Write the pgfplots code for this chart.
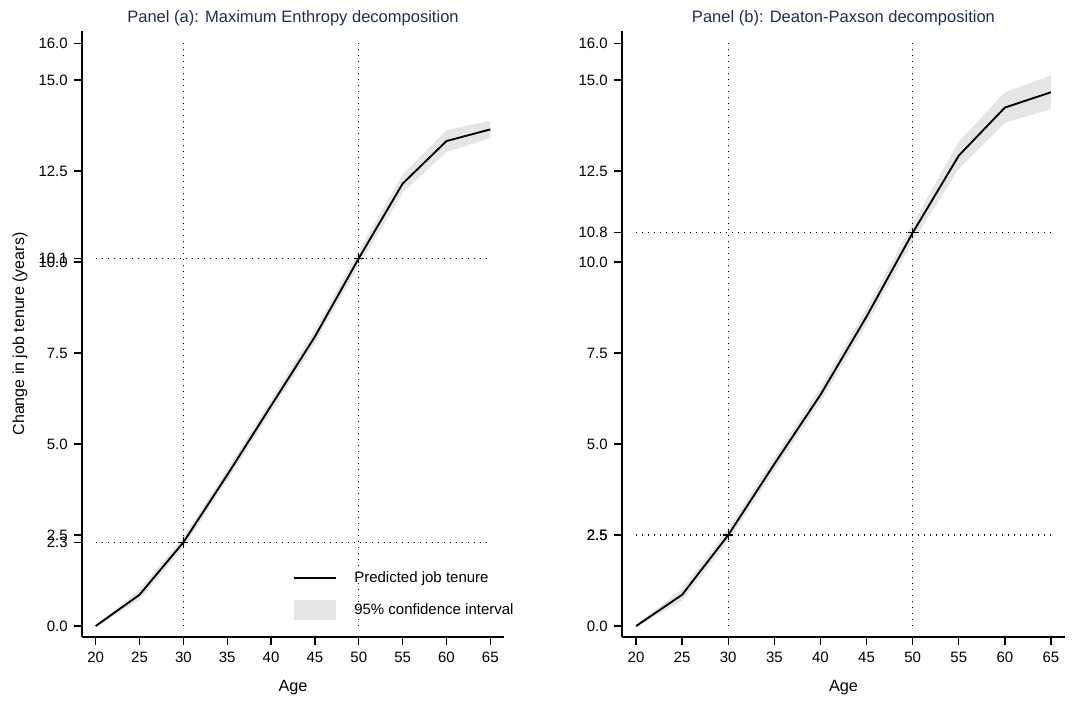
\documentclass[border=0pt]{standalone}
\usepackage{pgfplots}
\pgfplotsset{compat=1.18}
\usepackage{pgfplotstable}
\usepgfplotslibrary{fillbetween}
\usepackage{fontspec}
\setmainfont{Liberation Sans}
\definecolor{titlecol}{RGB}{30,45,83}
\definecolor{cigray}{RGB}{229,229,229}

\pgfplotstableread{
age est lo hi
20 0.00 -0.02 0.02
25 0.86 0.72 1.00
30 2.30 2.16 2.44
35 4.15 4.00 4.30
40 6.05 5.88 6.22
45 7.95 7.77 8.13
50 10.10 9.90 10.30
55 12.15 11.90 12.40
60 13.32 13.02 13.62
65 13.64 13.40 13.88
}\panela

\pgfplotstableread{
age est lo hi
20 0.00 -0.03 0.03
25 0.86 0.70 1.02
30 2.50 2.33 2.67
35 4.45 4.27 4.63
40 6.35 6.15 6.55
45 8.50 8.28 8.72
50 10.80 10.55 11.05
55 12.92 12.55 13.30
60 14.24 13.82 14.66
65 14.66 14.20 15.12
}\panelb

\pgfplotsset{
  panel/.style={
    scale only axis,
    height=454.7pt,
    anchor=south west,
    ymin=-0.30, ymax=16.35,
    axis x line*=bottom, axis y line*=left,
    axis line style={-, line width=1.3pt, black},
    tick align=outside,
    xtick pos=bottom, ytick pos=left,
    major tick length=6pt,
    every tick/.style={black, line width=1pt},
    xtick={20,25,...,65},
    tick label style={font=\fontsize{11.25}{13}\selectfont, text=black},
    /pgf/number format/assume math mode=true,
    scaled y ticks=false,
    yticklabel style={/pgf/number format/fixed, /pgf/number format/fixed zerofill, /pgf/number format/precision=1, inner sep=0pt, xshift=-4.5pt},
    xticklabel style={/pgf/number format/fixed, inner sep=0pt, yshift=-5pt},
    clip=false,
  },
  refline/.style={black, line width=0.9pt, dash pattern=on 0.9pt off 3.6pt, forget plot},
}

\begin{document}
\begin{tikzpicture}
% Panel (a)
\begin{axis}[panel,
  at={(61.5pt,48.75pt)}, width=316.5pt,
  xmin=18.44, xmax=66.56,
  ytick={0,2.3,2.5,5,7.5,10,10.1,12.5,15,16},
  legend style={draw=none, fill=none, inner sep=0pt, outer sep=0pt,
    at={(0.4993,0.0709)}, anchor=west,
    row sep=9pt, column sep=13.3pt,
    font=\fontsize{11.25}{13}\selectfont,
    nodes={inner sep=0pt, anchor=west}},
  legend cell align=left,
]
\addplot[name path=ahi, draw=none, forget plot] table[x=age, y=hi] {\panela};
\addplot[name path=alo, draw=none, forget plot] table[x=age, y=lo] {\panela};
\addplot[cigray, forget plot] fill between[of=ahi and alo];
\addplot[refline] coordinates {(20,2.3) (65,2.3)};
\addplot[refline] coordinates {(20,10.1) (65,10.1)};
\addplot[refline] coordinates {(30,0) (30,16)};
\addplot[refline] coordinates {(50,0) (50,16)};
\addplot[black, line width=1.4pt, forget plot] table[x=age, y=est] {\panela};
\addplot[only marks, mark=+, mark size=3.8pt, black, line width=0.9pt, forget plot] coordinates {(30,2.3) (50,10.1)};
\addlegendimage{legend image code/.code={\path[draw=none, fill=none] (0pt,-7.5pt) rectangle (31.5pt,7.5pt); \draw[black, line width=1.4pt] (0pt,0pt) -- (31.5pt,0pt);}}
\addlegendentry{Predicted job tenure}
\addlegendimage{legend image code/.code={\fill[cigray, draw=none] (0pt,-7.5pt) rectangle (31.5pt,7.5pt);}}
\addlegendentry{95\% confidence interval}
\end{axis}

% Panel (b)
\begin{axis}[panel,
  at={(466.5pt,48.75pt)}, width=332.25pt,
  xmin=18.48, xmax=66.52,
  ytick={0,2.5,5,7.5,10,10.8,12.5,15,16},
  extra y ticks={2.5},
]
\addplot[name path=bhi, draw=none, forget plot] table[x=age, y=hi] {\panelb};
\addplot[name path=blo, draw=none, forget plot] table[x=age, y=lo] {\panelb};
\addplot[cigray, forget plot] fill between[of=bhi and blo];
\addplot[refline] coordinates {(20,2.5) (65,2.5)};
\addplot[refline] coordinates {(20,10.8) (65,10.8)};
\addplot[refline] coordinates {(30,0) (30,16)};
\addplot[refline] coordinates {(50,0) (50,16)};
\addplot[black, line width=1.4pt, forget plot] table[x=age, y=est] {\panelb};
\addplot[only marks, mark=+, mark size=3.8pt, black, line width=0.9pt, forget plot] coordinates {(30,2.5) (50,10.8)};
\end{axis}

% Titles and axis labels
\node[text=titlecol, font=\fontsize{12.4}{15}\selectfont] at (219.75pt,513pt) {Panel (a): Maximum Enthropy decomposition};
\node[text=titlecol, font=\fontsize{12.4}{15}\selectfont] at (632.6pt,513pt) {Panel (b): Deaton-Paxson decomposition};
\node[font=\fontsize{12.2}{15}\selectfont] at (219.75pt,10.5pt) {Age};
\node[font=\fontsize{12.2}{15}\selectfont] at (632.6pt,10.5pt) {Age};
\node[font=\fontsize{12}{15}\selectfont, rotate=90] at (15pt,276pt) {Change in job tenure (years)};
\pgfresetboundingbox
\path[use as bounding box] (0,0) rectangle (806.25pt,526.5pt);
\end{tikzpicture}
\end{document}
